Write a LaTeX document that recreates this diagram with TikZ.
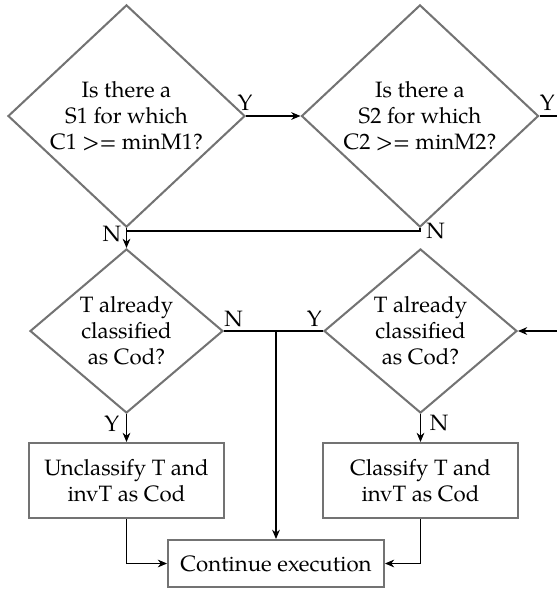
\documentclass[tikz,border=0pt]{standalone}
\usepackage{fontspec}
\setmainfont{TeX Gyre Pagella}
\usetikzlibrary{shapes.geometric,arrows.meta}

\begin{document}
\begin{tikzpicture}[x=0.54pt,y=-0.54pt,
  shapeline/.style={draw=black!55, line width=1.1pt},
  txt/.style={font=\fontsize{12}{14}\selectfont},
  decision/.style={shapeline, txt, diamond, inner sep=0pt, align=center},
  action/.style={shapeline, txt, rectangle, inner sep=0pt, align=center},
  conn/.style={line width=0.55pt, -{Stealth[length=5pt,width=4.2pt]}},
  plainline/.style={line width=0.55pt},
  lbl/.style={txt, inner sep=0pt}]

  \useasboundingbox (0,0) rectangle (557,590);
  \clip (0,0) rectangle (557,590);

  % decisions
  \node[decision, minimum width=128pt, minimum height=117.7pt] (d1) at (126.5,116)
    {Is there a\\S1 for which\\C1 >= minM1?};
  \node[decision, minimum width=128pt, minimum height=117.7pt] (d2) at (420,116)
    {Is there a\\S2 for which\\C2 >= minM2?};
  \node[decision, minimum width=104.2pt, minimum height=88.6pt] (d3) at (126.5,331)
    {T already\\classified\\as Cod?};
  \node[decision, minimum width=104.2pt, minimum height=88.6pt] (d4) at (420.5,331)
    {T already\\classified\\as Cod?};

  % actions
  \node[action, minimum width=105.3pt, minimum height=40.5pt] (unc) at (126.5,480.5)
    {Unclassify T and\\invT as Cod};
  \node[action, minimum width=105.3pt, minimum height=40.5pt] (cls) at (420.5,480.5)
    {Classify T and\\invT as Cod};
  \node[action, minimum width=116.6pt, minimum height=25.4pt] (cont) at (276,563.5)
    {Continue execution};

  % helper points
  \coordinate (j1) at (d1.south |- 0,231);
  \coordinate (j2) at (cont.north |- d3.east);
  \coordinate (loopa) at (580,116);

  % connectors
  \draw[conn] (d1.east) -- (d2.west);
  \draw[plainline] (d2.east) -- (loopa);
  \draw[conn] (loopa) |- (d4.east);
  \draw[conn] (d1.south) -- (d3.north);
  \draw[plainline] (d2.south) |- (j1);
  \draw[plainline] (d3.east) -- (d4.west);
  \draw[conn] (j2) -- (cont.north);
  \draw[conn] (d3.south) -- (unc.north);
  \draw[conn] (d4.south) -- (cls.north);
  \draw[conn] (unc.south) |- (cont.west);
  \draw[conn] (cls.south) |- (cont.east);

  % branch labels
  \node[lbl, anchor=south, xshift=-0.5pt, yshift=2.7pt] (y1) at (d1.east) {Y};
  \node[lbl, anchor=south west, yshift=2.7pt] (y2) at (d2.east) {Y};
  \node[lbl, anchor=east, xshift=-2.7pt, yshift=-3pt] (n1) at (d1.south) {N};
  \node[lbl, anchor=west, xshift=3.2pt, yshift=-1.6pt] (n2) at (d2.south) {N};
  \node[lbl, anchor=south west, yshift=2.2pt] (n3) at (d3.east) {N};
  \node[lbl, anchor=south east, xshift=-0.5pt, yshift=2.2pt] (y4) at (d4.west) {Y};
  \node[lbl, anchor=north east, xshift=-3.8pt, yshift=-0.5pt] (y3) at (d3.south) {Y};
  \node[lbl, anchor=north west, xshift=4.9pt, yshift=-0.5pt] (n4) at (d4.south) {N};
\end{tikzpicture}
\end{document}
